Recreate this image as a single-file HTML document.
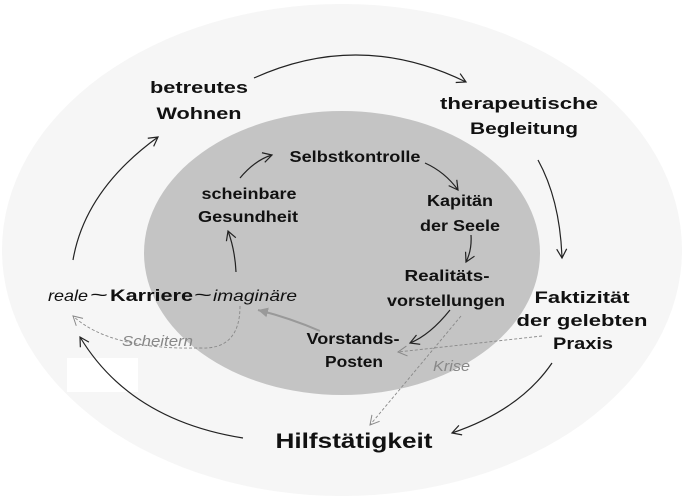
<!DOCTYPE html>
<html><head><meta charset="utf-8"><style>
html,body{margin:0;padding:0;background:#fff;}
svg{display:block;}
text{font-family:"Liberation Sans",sans-serif;}
.b{font-weight:bold;fill:#111;}
</style></head><body>
<svg width="685" height="501" viewBox="0 0 685 501" xmlns="http://www.w3.org/2000/svg">
<defs>
<marker id="a" markerWidth="12" markerHeight="12" refX="10" refY="6" orient="auto" markerUnits="userSpaceOnUse">
<path d="M1,1 L10,6 L1,11" fill="none" stroke="#222" stroke-width="1.2"/></marker>
<marker id="g" markerWidth="12" markerHeight="12" refX="10" refY="6" orient="auto" markerUnits="userSpaceOnUse">
<path d="M1,1 L10,6 L1,11" fill="none" stroke="#888" stroke-width="1"/></marker>
<marker id="gs" markerWidth="12" markerHeight="12" refX="10" refY="6" orient="auto" markerUnits="userSpaceOnUse">
<path d="M0,1 L10,6 L0,11 Z" fill="#999"/></marker>
</defs>
<rect width="685" height="501" fill="#fff"/>
<ellipse cx="342" cy="250" rx="340" ry="246" fill="#f6f6f6"/>
<ellipse cx="342" cy="253" rx="198" ry="142" fill="#c4c4c4"/>
<rect x="67" y="358" width="71" height="34" fill="#fff"/>

<g fill="none" stroke="#222" stroke-width="1.2">
<path d="M254,78 Q360,30 466,82" marker-end="url(#a)"/>
<path d="M538,160 Q560,200 562,258" marker-end="url(#a)"/>
<path d="M552,363 Q520,410 452,433" marker-end="url(#a)"/>
<path d="M243,438 Q130,420 80,337" marker-end="url(#a)"/>
<path d="M73,260 Q85,190 158,137" marker-end="url(#a)"/>
<path d="M240,178 Q255,160 272,155" marker-end="url(#a)"/>
<path d="M425,163 Q445,172 458,190" marker-end="url(#a)"/>
<path d="M471,235 Q472,250 466,262" marker-end="url(#a)"/>
<path d="M236,272 Q235,250 228,231" marker-end="url(#a)"/>
<path d="M450,310 Q430,335 410,343" marker-end="url(#a)"/>
</g>
<path d="M320,331 Q290,318 258,310" fill="none" stroke="#999" stroke-width="2" marker-end="url(#gs)"/>
<g fill="none" stroke="#888" stroke-width="0.9" stroke-dasharray="3,2">
<path d="M240,306 Q240,350 200,348 Q110,350 73,316" marker-end="url(#g)"/>
<path d="M542,336 L398,352" marker-end="url(#g)"/>
<path d="M461,316 L370,425" marker-end="url(#g)"/>
</g>

<g class="b" text-anchor="middle" font-size="17" lengthAdjust="spacingAndGlyphs">
<text x="199" y="93" textLength="98" lengthAdjust="spacingAndGlyphs">betreutes</text>
<text x="199" y="119" textLength="85" lengthAdjust="spacingAndGlyphs">Wohnen</text>
<text x="519" y="109" textLength="158" lengthAdjust="spacingAndGlyphs">therapeutische</text>
<text x="524" y="134" textLength="108" lengthAdjust="spacingAndGlyphs">Begleitung</text>
<text x="582" y="303" textLength="95" lengthAdjust="spacingAndGlyphs">Faktizität</text>
<text x="582" y="326" textLength="131" lengthAdjust="spacingAndGlyphs">der gelebten</text>
<text x="583" y="349" textLength="60" lengthAdjust="spacingAndGlyphs">Praxis</text>
</g>
<g class="b" text-anchor="middle" font-size="16">
<text x="355" y="162" textLength="131" lengthAdjust="spacingAndGlyphs">Selbstkontrolle</text>
<text x="249" y="199" textLength="95" lengthAdjust="spacingAndGlyphs">scheinbare</text>
<text x="248" y="222" textLength="100" lengthAdjust="spacingAndGlyphs">Gesundheit</text>
<text x="460" y="206" textLength="66" lengthAdjust="spacingAndGlyphs">Kapitän</text>
<text x="460" y="231" textLength="80" lengthAdjust="spacingAndGlyphs">der Seele</text>
<text x="447" y="281" textLength="85" lengthAdjust="spacingAndGlyphs">Realitäts-</text>
<text x="446" y="306" textLength="118" lengthAdjust="spacingAndGlyphs">vorstellungen</text>
<text x="353" y="344" textLength="93" lengthAdjust="spacingAndGlyphs">Vorstands-</text>
<text x="354" y="367" textLength="58" lengthAdjust="spacingAndGlyphs">Posten</text>
</g>
<text x="48" y="301" font-size="16" font-style="italic" fill="#111" textLength="40" lengthAdjust="spacingAndGlyphs">reale</text>
<text x="90" y="301" font-size="18" fill="#111" textLength="18" lengthAdjust="spacingAndGlyphs">~</text>
<text x="110" y="301" font-size="17" class="b" textLength="83" lengthAdjust="spacingAndGlyphs">Karriere</text>
<text x="194" y="301" font-size="18" fill="#111" textLength="18" lengthAdjust="spacingAndGlyphs">~</text>
<text x="213" y="301" font-size="16" font-style="italic" fill="#111" textLength="84" lengthAdjust="spacingAndGlyphs">imaginäre</text>
<text x="122" y="346" font-size="15" font-style="italic" fill="#888" textLength="71" lengthAdjust="spacingAndGlyphs">Scheitern</text>
<text x="433" y="371" font-size="15" font-style="italic" fill="#888" textLength="37" lengthAdjust="spacingAndGlyphs">Krise</text>
<text x="354" y="448" text-anchor="middle" font-size="21" class="b" textLength="157" lengthAdjust="spacingAndGlyphs">Hilfstätigkeit</text>
</svg>
</body></html>
